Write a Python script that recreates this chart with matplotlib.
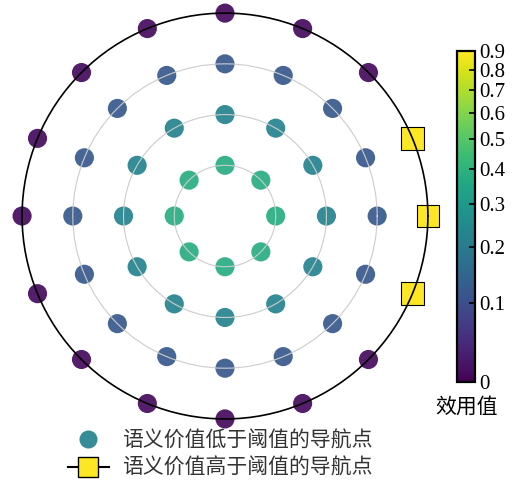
import numpy as np
import matplotlib
matplotlib.use('Agg')
import matplotlib.pyplot as plt
from matplotlib.colors import FuncNorm
from matplotlib.lines import Line2D

plt.rcParams['font.family'] = ['Noto Sans CJK SC', 'DejaVu Sans']

# Navigation points: rings of points around the robot, utility value per ring
ring_radius = [1, 2, 3, 4]
ring_counts = [8, 12, 16, 16]
ring_values = [0.38, 0.23, 0.12, 0.01]

# Outer-ring points whose semantic value is above the threshold
high_angles_deg = [-22.5, 0.0, 22.5]
high_values = [0.9, 0.9, 0.9]

cbar_ticks = [0, 0.1, 0.2, 0.3, 0.4, 0.5, 0.6, 0.7, 0.8, 0.9]
cbar_ticklabels = ['0', '0.1', '0.2', '0.3', '0.4', '0.5', '0.6', '0.7', '0.8', '0.9']

legend_labels = ['语义价值低于阈值的导航点', '语义价值高于阈值的导航点']
cbar_label = '效用值'

# log-like colour scale
k = 5.0
norm = FuncNorm((lambda x: np.log1p(k * np.asarray(x)), lambda y: np.expm1(np.asarray(y)) / k),
                vmin=0, vmax=0.9)
cmap = plt.get_cmap('viridis')

fig = plt.figure(figsize=(5.22, 4.86), dpi=100)
ax = fig.add_axes([0.042, 0.138, 0.778, 0.835], projection='polar')

for r, n, v in zip(ring_radius, ring_counts, ring_values):
    theta = np.deg2rad(np.arange(n) * 360.0 / n)
    vals = np.full(n, v)
    if r == ring_radius[-1]:
        ang = np.rad2deg(theta)
        ang = np.where(ang > 180, ang - 360, ang)
        keep = ~np.isin(np.round(ang, 1), np.round(high_angles_deg, 1))
        theta, vals = theta[keep], vals[keep]
    ax.scatter(theta, np.full(len(theta), r), c=vals, cmap=cmap, norm=norm,
               s=190, alpha=0.92, edgecolors='none', clip_on=False)

ax.scatter(np.deg2rad(high_angles_deg), np.full(len(high_angles_deg), ring_radius[-1]),
           c=high_values, cmap=cmap, norm=norm, marker='s', s=265,
           edgecolors='black', linewidths=0.8, clip_on=False)

ax.set_ylim(0, 4)
ax.set_rticks([1, 2, 3])
ax.set_yticklabels([])
ax.set_xticks([])
ax.yaxis.grid(True, color='#cccccc', linewidth=0.8)
ax.xaxis.grid(False)
ax.spines['polar'].set_linewidth(1.2)
ax.spines['polar'].set_color('black')

# colour bar
cax = fig.add_axes([0.876, 0.214, 0.034, 0.681])
sm = plt.cm.ScalarMappable(norm=norm, cmap=cmap)
cb = fig.colorbar(sm, cax=cax)
cb.set_ticks(cbar_ticks)
cb.set_ticklabels(cbar_ticklabels)
cb.outline.set_linewidth(1.6)
cax.tick_params(direction='in', length=4, width=1.2, pad=3)
for t in cax.get_yticklabels():
    t.set_fontfamily('Liberation Serif')
    t.set_fontsize(15)
fig.text(467 / 522, 1 - 407 / 486, cbar_label, ha='center', va='center', fontsize=15)

handles = [
    Line2D([], [], marker='o', linestyle='None', markersize=13,
           markerfacecolor=cmap(norm(ring_values[1])), markeredgecolor='none', alpha=0.92),
    Line2D([], [], marker='s', linestyle='-', color='black', linewidth=1.5, markersize=15,
           markerfacecolor=cmap(norm(high_values[0])), markeredgecolor='black'),
]
fig.legend(handles, legend_labels, loc='upper center', bbox_to_anchor=(220 / 522, 1 - 415 / 486),
           frameon=False, fontsize=15, handlelength=2.0, labelspacing=0.25, borderpad=0.2,
           handletextpad=0.6, labelcolor='#333333')

fig.savefig('out.png', dpi=100)
